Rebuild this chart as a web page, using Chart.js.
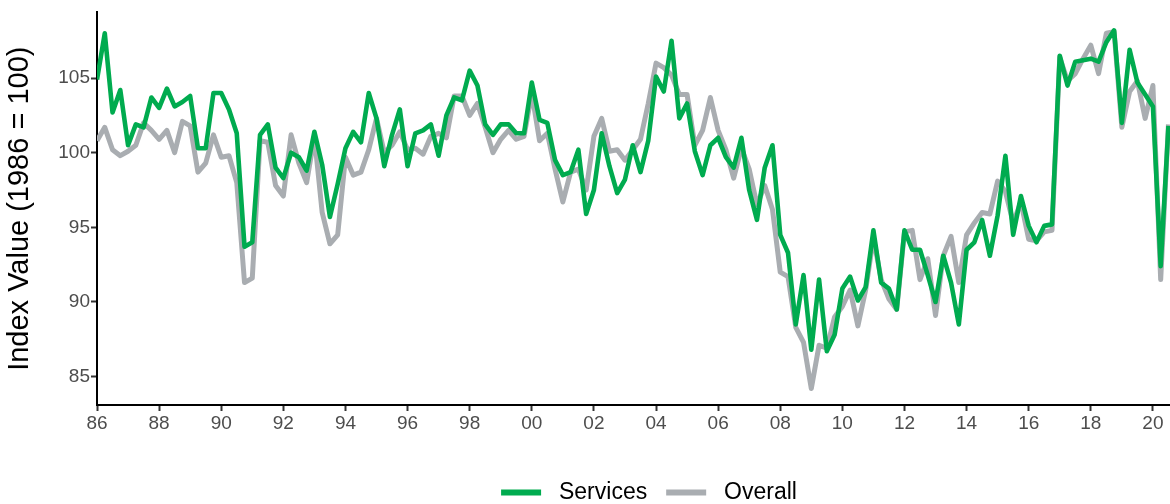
<!DOCTYPE html>
<html>
<head>
<meta charset="utf-8">
<script src="https://cdn.jsdelivr.net/npm/chart.js@4"></script>
<style>
  html, body { margin: 0; padding: 0; background: #ffffff; }
  #wrap { width: 1170px; height: 504px; }
</style>
</head>
<body>
<div id="wrap"><canvas id="c" width="1170" height="504"></canvas></div>
<script>
// Quarterly index values, 1986Q1 .. 2020Q3 (1986 = 100)
const startYear = 1986;
const services = [
  104.9, 108.0, 102.7, 104.2,
  100.5, 101.9, 101.7, 103.7,
  103.0, 104.3, 103.1, 103.4,
  103.8, 100.3, 100.3, 104.0,
  104.0, 102.9, 101.3, 93.7,
  94.0, 101.2, 101.9, 99.0,
  98.3, 100.0, 99.7, 98.8,
  101.4, 99.2, 95.7, 97.9,
  100.3, 101.4, 100.7, 104.0,
  102.3, 99.1, 101.2, 102.9,
  99.1, 101.3, 101.5, 101.9,
  99.8, 102.5, 103.7, 103.5,
  105.5, 104.5, 101.9, 101.2,
  101.9, 101.9, 101.3, 101.3,
  104.7, 102.2, 102.0, 99.5,
  98.5, 98.7, 100.2, 95.9,
  97.5, 101.3, 99.1, 97.3,
  98.2, 100.5, 98.7, 100.8,
  105.1, 104.1, 107.5, 102.3,
  103.3, 100.1, 98.5, 100.5,
  101.0, 99.7, 99.0, 101.0,
  97.5, 95.5, 99.0, 100.5,
  94.5, 93.3, 88.5, 91.8,
  86.8, 91.5, 86.7, 87.8,
  90.9, 91.7, 90.1, 91.0,
  94.8, 91.3, 90.9, 89.5,
  94.8, 93.5, 93.5, 91.8,
  90.0, 93.1, 91.3, 88.5,
  93.5, 94.0, 95.5, 93.1,
  95.8, 99.8, 94.5, 97.1,
  95.1, 94.0, 95.1, 95.2,
  106.5, 104.5, 106.1, 106.2,
  106.3, 106.1, 107.4, 108.2,
  102.0, 106.9, 104.7, 103.9,
  103.1, 92.4, 101.8
];
const overall = [
  100.8, 101.7, 100.2, 99.8,
  100.1, 100.5, 102.0, 101.5,
  100.9, 101.5, 100.0, 102.1,
  101.8, 98.7, 99.3, 101.2,
  99.7, 99.8, 98.0, 91.3,
  91.6, 100.8, 100.7, 97.8,
  97.1, 101.2, 99.3, 98.0,
  101.1, 96.0, 93.9, 94.5,
  99.7, 98.5, 98.7, 100.2,
  102.3, 100.0, 100.5, 101.4,
  100.2, 100.3, 99.9, 101.1,
  101.3, 101.0, 103.8, 103.8,
  102.5, 103.3, 101.7, 100.0,
  100.9, 101.5, 100.9, 101.1,
  104.0, 100.8, 101.3, 98.9,
  96.7, 98.7, 98.9, 97.5,
  101.1, 102.3, 100.1, 100.2,
  99.5, 100.2, 100.9, 103.3,
  106.0, 105.7, 105.2, 103.9,
  103.9, 100.5, 101.5, 103.7,
  101.5, 100.2, 98.3, 100.3,
  98.9, 96.5, 97.8, 96.2,
  92.0, 91.7, 88.3, 87.3,
  84.2, 87.1, 86.9, 89.0,
  89.7, 90.8, 88.4, 90.8,
  94.3, 91.5, 90.2, 89.5,
  94.7, 94.8, 91.5, 92.9,
  89.1, 93.1, 94.4, 91.3,
  94.5, 95.3, 96.0, 95.9,
  98.1, 97.4, 95.3, 96.7,
  94.2, 94.1, 94.7, 94.8,
  106.4, 104.8, 105.3, 106.3,
  107.2, 105.3, 108.0, 108.1,
  101.7, 104.1, 104.8, 102.3,
  104.5, 91.5, 101.9
];
const yTicks = [85, 90, 95, 100, 105];
const xTickYears = [1986, 1988, 1990, 1992, 1994, 1996, 1998, 2000, 2002, 2004,
                    2006, 2008, 2010, 2012, 2014, 2016, 2018, 2020];
const seriesNames = ['Services', 'Overall'];
const seriesColors = ['#00AB4F', '#A9ADB1'];

function toPoints(arr) {
  return arr.map((v, i) => ({ x: startYear + i / 4, y: v }));
}

const shiftLegend = {
  id: 'shiftLegend',
  afterLayout(chart) {
    const lg = chart.legend;
    if (lg) {
      lg.left += 64; lg.right += 64;
      lg.top += 10; lg.bottom += 10;
    }
  }
};

const ctx = document.getElementById('c').getContext('2d');
new Chart(ctx, {
  type: 'line',
  data: {
    datasets: [
      {
        label: seriesNames[0],
        data: toPoints(services),
        borderColor: seriesColors[0],
        backgroundColor: seriesColors[0],
        borderWidth: 4.6,
        pointRadius: 0,
        tension: 0,
        fill: false,
        borderJoinStyle: 'round',
        borderCapStyle: 'butt'
      },
      {
        label: seriesNames[1],
        data: toPoints(overall),
        borderColor: seriesColors[1],
        backgroundColor: seriesColors[1],
        borderWidth: 5,
        pointRadius: 0,
        tension: 0,
        fill: false,
        borderJoinStyle: 'round',
        borderCapStyle: 'butt'
      }
    ]
  },
  plugins: [shiftLegend],
  options: {
    responsive: false,
    animation: false,
    devicePixelRatio: 1,
    layout: { padding: { top: 0, right: 0, bottom: 0, left: 0 } },
    plugins: {
      tooltip: { enabled: false },
      legend: {
        display: true,
        position: 'bottom',
        align: 'center',
        labels: {
          color: '#000000',
          font: { family: 'Liberation Sans, Arial, sans-serif', size: 23 },
          boxWidth: 40,
          boxHeight: 6,
          padding: 19,
          generateLabels(chart) {
            return chart.data.datasets.map((ds, i) => ({
              text: ' ' + ds.label,
              fillStyle: ds.borderColor,
              strokeStyle: ds.borderColor,
              lineWidth: 0,
              hidden: false,
              datasetIndex: i,
              fontColor: '#000000'
            }));
          }
        }
      }
    },
    scales: {
      x: {
        type: 'linear',
        min: 1986,
        max: 2020.55,
        afterBuildTicks(scale) {
          scale.ticks = xTickYears.map(v => ({ value: v }));
        },
        afterFit(scale) { scale.height = 47; },
        ticks: {
          color: '#4D4D4D',
          font: { family: 'Liberation Sans, Arial, sans-serif', size: 19 },
          padding: 1,
          maxRotation: 0,
          autoSkip: false,
          callback(v) { return String(Math.round(v) % 100).padStart(2, '0'); }
        },
        grid: {
          drawOnChartArea: false,
          drawTicks: true,
          tickLength: 6,
          tickColor: '#333333',
          tickWidth: 2
        },
        border: { display: true, color: '#000000', width: 2 }
      },
      y: {
        type: 'linear',
        min: 83.1,
        max: 109.4,
        afterBuildTicks(scale) {
          scale.ticks = yTicks.map(v => ({ value: v }));
        },
        afterFit(scale) { scale.width = 97; },
        ticks: {
          color: '#4D4D4D',
          font: { family: 'Liberation Sans, Arial, sans-serif', size: 19 },
          padding: 1
        },
        grid: {
          drawOnChartArea: false,
          drawTicks: true,
          tickLength: 6,
          tickColor: '#333333',
          tickWidth: 2
        },
        border: { display: true, color: '#000000', width: 2 },
        title: {
          display: true,
          text: 'Index Value (1986 = 100)',
          color: '#000000',
          font: { family: 'Liberation Sans, Arial, sans-serif', size: 29 },
          padding: { top: 3, bottom: 0 }
        }
      }
    }
  }
});
</script>
</body>
</html>
